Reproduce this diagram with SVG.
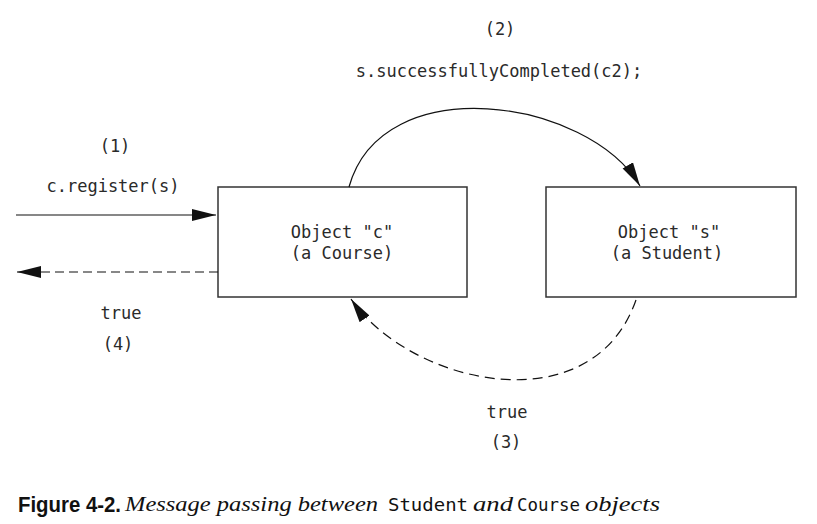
<svg xmlns="http://www.w3.org/2000/svg" width="817" height="524" viewBox="0 0 817 524">
<style>
.m{font-family:"DejaVu Sans Mono","Liberation Mono",monospace;font-size:17px;fill:#2a2a2a;text-anchor:middle}
.box{fill:#fff;stroke:#333;stroke-width:1.5}
.ln{fill:none;stroke:#111;stroke-width:1.2}
.d1{stroke-dasharray:9 5}
.d2{stroke-dasharray:10 6}
.cap{font-size:19px;fill:#111}
</style>
<defs>
<marker id="ah" markerUnits="userSpaceOnUse" markerWidth="26" markerHeight="14" refX="24" refY="6" orient="auto" viewBox="0 0 26 14">
<path d="M0,0 L24,6 L0,12 z" fill="#111"/>
</marker>
</defs>
<g id="node-c">
<rect class="box" x="218" y="187" width="249" height="110"/>
<text class="m" x="342" y="238">Object "c"</text>
<text class="m" x="342" y="259">(a Course)</text>
</g>
<g id="node-s">
<rect class="box" x="546" y="187" width="250" height="110"/>
<text class="m" x="669" y="238">Object "s"</text>
<text class="m" x="667" y="259">(a Student)</text>
</g>
<g id="connectors">
<line class="ln" x1="16" y1="215" x2="216" y2="215" marker-end="url(#ah)"/>
<line class="ln d1" x1="218" y1="272" x2="17" y2="272" marker-end="url(#ah)"/>
<path class="ln" d="M349,187 C382,68 588,98 640,186" marker-end="url(#ah)"/>
<path class="ln d2" d="M636,300 C592,426 410,385 351,299" marker-end="url(#ah)"/>
</g>
<g id="labels">
<text class="m" x="500" y="35">(2)</text>
<text class="m" x="499" y="77">s.successfullyCompleted(c2);</text>
<text class="m" x="115" y="152">(1)</text>
<text class="m" x="113" y="192">c.register(s)</text>
<text class="m" x="121" y="319">true</text>
<text class="m" x="118" y="350">(4)</text>
<text class="m" x="507" y="418">true</text>
<text class="m" x="506" y="448">(3)</text>
</g>
<g id="caption">
<text x="18" y="511.5" class="cap" style="font-family:'Liberation Sans',Arial,sans-serif;font-weight:bold;font-size:22px" textLength="103" lengthAdjust="spacingAndGlyphs">Figure 4-2.</text>
<text x="125" y="511" class="cap" style="font-family:'Liberation Serif','Times New Roman',serif;font-style:italic;font-size:20px" textLength="253" lengthAdjust="spacingAndGlyphs">Message passing between</text>
<text x="388" y="511" class="cap" style="font-family:'DejaVu Sans Mono',monospace;font-size:18px" textLength="80" lengthAdjust="spacingAndGlyphs">Student</text>
<text x="473" y="511" class="cap" style="font-family:'Liberation Serif','Times New Roman',serif;font-style:italic;font-size:20px" textLength="40" lengthAdjust="spacingAndGlyphs">and</text>
<text x="517" y="511" class="cap" style="font-family:'DejaVu Sans Mono',monospace;font-size:18px" textLength="63" lengthAdjust="spacingAndGlyphs">Course</text>
<text x="585" y="511" class="cap" style="font-family:'Liberation Serif','Times New Roman',serif;font-style:italic;font-size:20px" textLength="75" lengthAdjust="spacingAndGlyphs">objects</text>
</g>
</svg>
